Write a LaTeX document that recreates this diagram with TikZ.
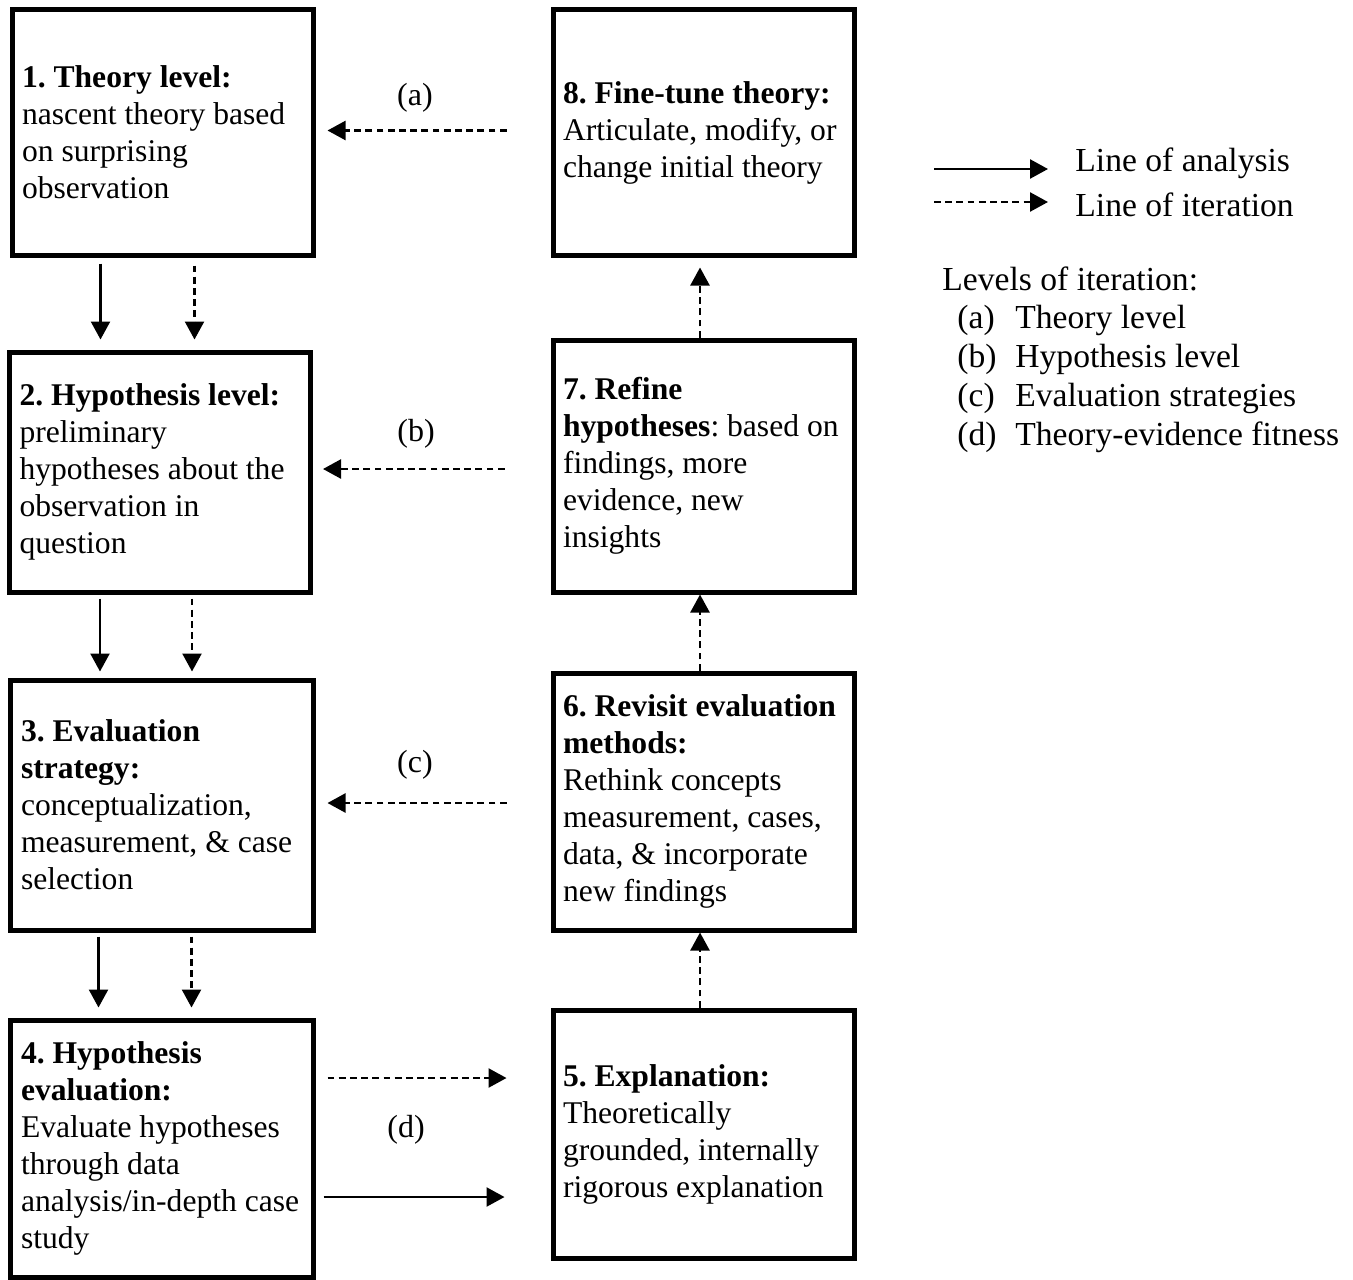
\documentclass[tikz,border=0pt]{standalone}
\usepackage{fontspec}
\setmainfont{Liberation Serif}
\usetikzlibrary{arrows.meta,calc,positioning}
\frenchspacing

\begin{document}
\begin{tikzpicture}[x=0.5pt, y=-0.5pt]
		% --- Estilos ---
		\tikzset{
			box/.style={draw, line width=2.5pt, inner xsep=5pt, inner ysep=0pt, text width=140.5pt,
				align=flush left, font=\fontsize{15.8}{18.5}\selectfont},
			tip/.style={-{Triangle[length=9pt, width=9.5pt]}},
			analysis/.style={tip, line width=1.2pt},
			iteration/.style={tip, line width=1.2pt, dash pattern=on 3.4pt off 2.2pt},
			lvl/.style={font=\fontsize{16}{18.5}\selectfont},
			legend/.style={inner sep=0pt, anchor=west, font=\fontsize{16.8}{19.4}\selectfont}
		}
		\useasboundingbox (0,0) rectangle (1353,1279);
		
		% --- Columna izquierda ---
		\node[box, minimum width=150.5pt, minimum height=122.5pt] (b1) at (162.5,132.5)
			{\textbf{1. Theory level:}\\nascent theory based\\on surprising\\observation};
		\node[box, minimum width=150pt, minimum height=120pt] (b2) at (160,472)
			{\textbf{2. Hypothesis level:}\\preliminary\\hypotheses about the\\observation in\\question};
		\node[box, minimum width=151.5pt, minimum height=125pt] (b3) at (161.5,805)
			{\textbf{3. Evaluation}\\\textbf{strategy:}\\conceptualization,\\measurement, \& case\\selection};
		\node[box, minimum width=151.5pt, minimum height=128.5pt] (b4) at (161.5,1148.5)
			{\textbf{4. Hypothesis}\\\textbf{evaluation:}\\Evaluate hypotheses\\through data\\analysis/in-depth case\\study};
		
		% --- Columna derecha ---
		\node[box, minimum width=149.5pt, minimum height=124pt] (b5) at (703.5,1134)
			{\textbf{5. Explanation:}\\Theoretically\\grounded, internally\\rigorous explanation};
		\node[box, minimum width=149.5pt, minimum height=128.5pt] (b6) at (703.5,801.5)
			{\textbf{6. Revisit evaluation}\\\textbf{methods:}\\Rethink concepts\\measurement, cases,\\data, \& incorporate\\new findings};
		\node[box, minimum width=149.5pt, minimum height=126pt] (b7) at (703.5,466)
			{\textbf{7. Refine}\\\textbf{hypotheses}: based on\\findings, more\\evidence, new\\insights};
		\node[box, minimum width=149.5pt, minimum height=122.5pt] (b8) at (703.5,132.5)
			{\textbf{8. Fine-tune theory:}\\Articulate, modify, or\\change initial theory};
		
		% --- Flechas hacia abajo (análisis e iteración) ---
		\draw[analysis, shorten <=3pt, shorten >=5pt] ([xshift=-31pt]b1.south) -- ([xshift=-31pt]b1.south |- b2.north);
		\draw[iteration, shorten <=4pt, shorten >=5pt] ([xshift=16pt]b1.south) -- ([xshift=16pt]b1.south |- b2.north);
		\draw[analysis, shorten <=2pt, shorten >=3pt] ([xshift=-30pt]b2.south) -- ([xshift=-30pt]b2.south |- b3.north);
		\draw[iteration, shorten <=2pt, shorten >=3pt] ([xshift=16pt]b2.south) -- ([xshift=16pt]b2.south |- b3.north);
		\draw[analysis, shorten <=2pt, shorten >=5pt] ([xshift=-31.5pt]b3.south) -- ([xshift=-31.5pt]b3.south |- b4.north);
		\draw[iteration, shorten <=2pt, shorten >=5pt] ([xshift=15pt]b3.south) -- ([xshift=15pt]b3.south |- b4.north);
		
		% --- Flechas hacia arriba ---
		\draw[iteration] ([xshift=-1.75pt]b5.north) -- ([xshift=-1.75pt]b6.south);
		\draw[iteration] ([xshift=-1.75pt]b6.north) -- ([xshift=-1.75pt]b7.south);
		\draw[iteration, shorten >=5pt] ([xshift=-1.75pt]b7.north) -- ([xshift=-1.75pt]b8.south);
		
		% --- Niveles de iteración (a)-(d) ---
		\draw[iteration, shorten <=22pt, shorten >=6pt] ([yshift=1pt]b8.west) -- ([yshift=1pt]b8.west -| b1.east);
		\draw[iteration, shorten <=23pt, shorten >=5pt] ([yshift=-1.5pt]b7.west) -- ([yshift=-1.5pt]b7.west -| b2.east);
		\draw[iteration, shorten <=22pt, shorten >=6pt] ([yshift=-0.75pt]b6.west) -- ([yshift=-0.75pt]b6.west -| b3.east);
		\coordinate (d1) at ([yshift=28pt]b5.west);
		\coordinate (d2) at ([yshift=-31.5pt]b5.west);
		\draw[iteration, shorten <=6pt, shorten >=22pt] (b4.east |- d1) -- (d1);
		\draw[analysis, shorten <=4pt, shorten >=23pt] (b4.east |- d2) -- (d2);
		\node[lvl] (la) at (415,98) {(a)};
		\node[lvl] (lb) at (416,434) {(b)};
		\node[lvl] (lc) at (415,765) {(c)};
		\node[lvl] (ld) at (406,1130) {(d)};
		
		% --- Leyenda ---
		\node[legend] (lgA) at (1075,163) {Line of analysis};
		\node[legend] (lgI) at (1075,205) {Line of iteration};
		\coordinate (sA) at (934,169);
		\coordinate (sI) at (934,202);
		\draw[analysis, shorten >=13.5pt] (sA) -- (sA -| lgA.west);
		\draw[iteration, shorten >=13.5pt] (sI) -- (sI -| lgI.west);
		\node[legend, anchor=north west, align=left] (lvls) at (942,266)
			{Levels of iteration:\\
			\hspace*{7.5pt}\makebox[29pt][l]{(a)}Theory level\\
			\hspace*{7.5pt}\makebox[29pt][l]{(b)}Hypothesis level\\
			\hspace*{7.5pt}\makebox[29pt][l]{(c)}Evaluation strategies\\
			\hspace*{7.5pt}\makebox[29pt][l]{(d)}Theory-evidence fitness};
		
	\end{tikzpicture}
\end{document}
